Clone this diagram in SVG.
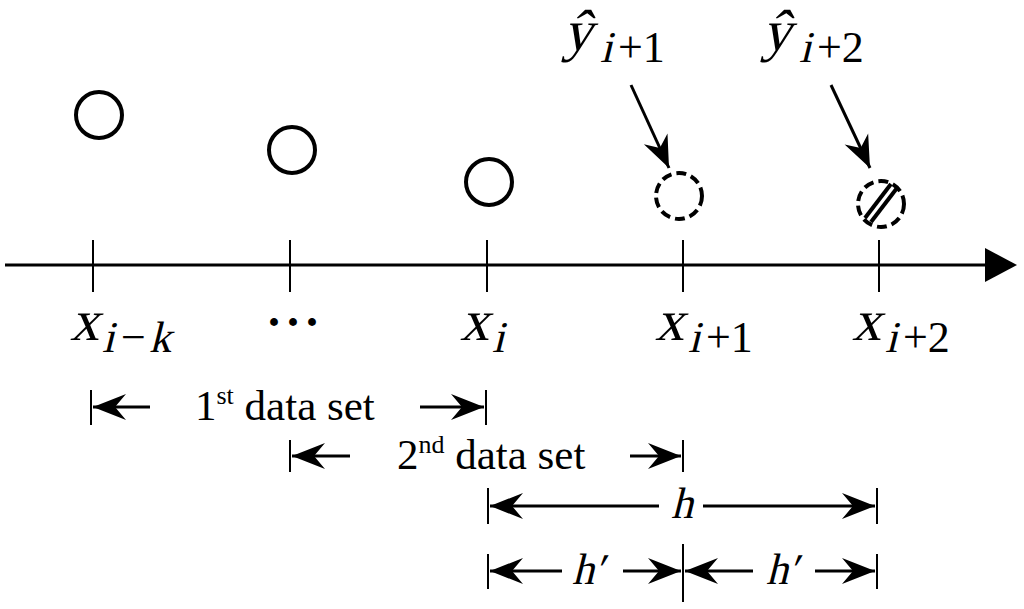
<svg xmlns="http://www.w3.org/2000/svg" width="1024" height="609" viewBox="0 0 1024 609">
<style>
.ln{stroke:#000;stroke-width:3;fill:none}
.tk{stroke:#000;stroke-width:2;fill:none}
.pt{stroke:#000;stroke-width:4;fill:none}
.dash{stroke-dasharray:10 5}
.m{font-family:"Liberation Serif","Times New Roman",serif;fill:#000}
.big{font-size:58px}
.sub{font-size:44px}
.t{font-family:"Liberation Serif","Times New Roman",serif;fill:#000;font-size:43px}
</style>
<defs>
<marker id="ah" markerUnits="userSpaceOnUse" markerWidth="40" markerHeight="30" viewBox="-36 -15 40 30" refX="0" refY="0" orient="auto">
<path d="M0,0 L-33,-13 L-22,0 L-33,13 Z" fill="#000"/>
</marker>
<marker id="ap" markerUnits="userSpaceOnUse" markerWidth="40" markerHeight="30" viewBox="-36 -15 40 30" refX="0" refY="0" orient="auto">
<path d="M0,0 L-32,-13 L-22,0 L-32,13 Z" fill="#000"/>
</marker>
</defs>
<rect width="1024" height="609" fill="#fff"/>

<g id="axis">
<line class="ln" x1="5" y1="265" x2="990" y2="265"/>
<polygon points="985,248 1017,265 985,282" fill="#000"/>
<line class="tk" x1="93" y1="240" x2="93" y2="292"/>
<line class="tk" x1="290" y1="240" x2="290" y2="292"/>
<line class="tk" x1="487" y1="240" x2="487" y2="292"/>
<line class="tk" x1="683" y1="240" x2="683" y2="292"/>
<line class="tk" x1="879" y1="240" x2="879" y2="292"/>
</g>

<g id="p1"><circle class="pt" cx="99" cy="115" r="23"/></g>
<g id="p2"><circle class="pt" cx="292" cy="150" r="23"/></g>
<g id="p3"><circle class="pt" cx="489" cy="182" r="23"/></g>
<g id="p4"><circle class="pt dash" cx="679" cy="196" r="23"/></g>
<g id="p5">
<circle class="pt dash" cx="881" cy="204" r="23"/>
<line class="pt" x1="865" y1="218" x2="891" y2="184"/>
<line class="pt" x1="871" y1="222" x2="897" y2="188"/>
</g>

<g id="labels">
<g id="lab-xik">
<text class="m big" transform="translate(70,340) skewX(-14)">x</text>
<text class="m sub" transform="translate(102,352) skewX(-14)">i</text>
<text class="m sub" x="121" y="352">−</text>
<text class="m sub" transform="translate(149,352) skewX(-14)">k</text>
</g>
<text x="266" y="338" font-family="Liberation Serif,serif" font-size="48" font-weight="bold" letter-spacing="3">···</text>
<g id="lab-xi">
<text class="m big" transform="translate(460,340) skewX(-14)">x</text>
<text class="m sub" transform="translate(492,352) skewX(-14)">i</text>
</g>
<g id="lab-xi1">
<text class="m big" transform="translate(655,340) skewX(-14)">x</text>
<text class="m sub" transform="translate(688,352) skewX(-14)">i</text>
<text class="m sub" x="706" y="352">+1</text>
</g>
<g id="lab-xi2">
<text class="m big" transform="translate(852,340) skewX(-14)">x</text>
<text class="m sub" transform="translate(885,352) skewX(-14)">i</text>
<text class="m sub" x="903" y="352">+2</text>
</g>
<g id="lab-y1">
<text class="m big" transform="translate(563,50) skewX(-14)">ŷ</text>
<text class="m sub" transform="translate(600,62) skewX(-14)">i</text>
<text class="m sub" x="618" y="62">+1</text>
</g>
<g id="lab-y2">
<text class="m big" transform="translate(762,50) skewX(-14)">ŷ</text>
<text class="m sub" transform="translate(799,62) skewX(-14)">i</text>
<text class="m sub" x="817" y="62">+2</text>
</g>
</g>

<g id="connectors">
<line class="ln" x1="631" y1="85" x2="669" y2="168" marker-end="url(#ap)"/>
<line class="ln" x1="831" y1="85" x2="870" y2="168" marker-end="url(#ap)"/>

<line class="tk" x1="91" y1="390" x2="91" y2="425"/>
<line class="ln" x1="150" y1="407" x2="93" y2="407" marker-end="url(#ah)"/>
<line class="ln" x1="420" y1="407" x2="484" y2="407" marker-end="url(#ah)"/>
<line class="tk" x1="486" y1="390" x2="486" y2="425"/>

<line class="tk" x1="290" y1="440" x2="290" y2="472"/>
<line class="ln" x1="350" y1="456" x2="292" y2="456" marker-end="url(#ah)"/>
<line class="ln" x1="630" y1="456" x2="681" y2="456" marker-end="url(#ah)"/>
<line class="tk" x1="683" y1="440" x2="683" y2="472"/>

<line class="tk" x1="488" y1="488" x2="488" y2="524"/>
<line class="ln" x1="659" y1="506" x2="490" y2="506" marker-end="url(#ah)"/>
<line class="ln" x1="703" y1="506" x2="875" y2="506" marker-end="url(#ah)"/>
<line class="tk" x1="877" y1="488" x2="877" y2="524"/>

<line class="tk" x1="488" y1="554" x2="488" y2="589"/>
<line class="tk" x1="683" y1="544" x2="683" y2="602"/>
<line class="tk" x1="877" y1="554" x2="877" y2="589"/>
<line class="ln" x1="562" y1="571" x2="490" y2="571" marker-end="url(#ah)"/>
<line class="ln" x1="623" y1="571" x2="681" y2="571" marker-end="url(#ah)"/>
<line class="ln" x1="753" y1="571" x2="685" y2="571" marker-end="url(#ah)"/>
<line class="ln" x1="815" y1="571" x2="875" y2="571" marker-end="url(#ah)"/>
</g>

<g id="dimtext">
<text class="t" x="195" y="420">1<tspan font-size="26" dy="-16">st</tspan><tspan dy="16"> data set</tspan></text>
<text class="t" x="397" y="469">2<tspan font-size="26" dy="-16">nd</tspan><tspan dy="16"> data set</tspan></text>
<text class="m sub" transform="translate(671,518) skewX(-14)">h</text>
<text class="m sub" transform="translate(572,584) skewX(-14)">h′</text>
<text class="m sub" transform="translate(766,584) skewX(-14)">h′</text>
</g>
</svg>
